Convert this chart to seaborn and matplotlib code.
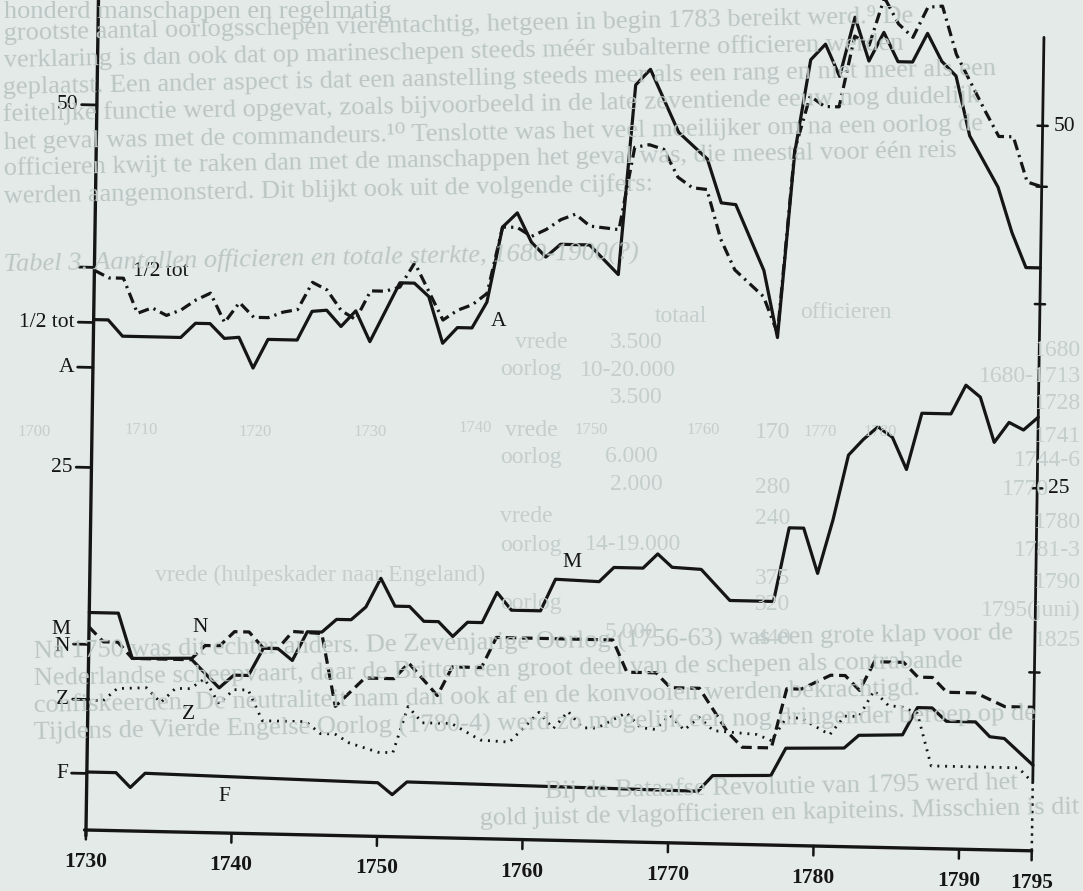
import numpy as np
import pandas as pd
import seaborn as sns
import matplotlib.pyplot as plt
from matplotlib import transforms as mtransforms

half_tot_years = [1730, 1731, 1732, 1733, 1734, 1735, 1736, 1737, 1738, 1739, 1740, 1741, 1742, 1743,
                  1744, 1745, 1746, 1747, 1748, 1749, 1750, 1751, 1752, 1754, 1755, 1756, 1757, 1758,
                  1759, 1760, 1761, 1762, 1763, 1764, 1766, 1767, 1768, 1769, 1770, 1771, 1772, 1773,
                  1774, 1776, 1777, 1778, 1779, 1780, 1781, 1782, 1783, 1784, 1785, 1786, 1787, 1788,
                  1789, 1790, 1791, 1792, 1793, 1794, 1795]
half_tot_vals = [38.6, 38.1, 38.1, 35.7, 36.1, 35.6, 36.0, 36.7, 37.2, 35.2, 36.6, 35.6, 35.6, 36.0,
                 36.2, 38.1, 37.6, 36.2, 35.6, 37.6, 37.6, 37.9, 39.6, 35.7, 36.4, 36.8, 37.6, 42.2,
                 42.2, 41.6, 42.1, 42.8, 43.2, 42.4, 42.2, 47.9, 48.1, 47.8, 45.9, 45.2, 45.1, 41.7,
                 39.6, 37.8, 35.3, 48.0, 51.7, 51.0, 51.0, 55.9, 55.3, 58.6, 56.8, 55.9, 58.0, 58.1,
                 54.8, 52.9, 51.0, 49.2, 49.2, 46.1, 45.8]

a_years = [1730, 1731, 1732, 1736, 1737, 1738, 1739, 1740, 1741, 1742, 1744, 1745, 1746, 1747, 1748,
           1749, 1751, 1752, 1753, 1754, 1755, 1756, 1757, 1758, 1759, 1760, 1761, 1762, 1764, 1766,
           1767, 1768, 1770, 1772, 1773, 1774, 1776, 1777, 1778, 1779, 1780, 1781, 1782, 1783, 1784,
           1785, 1786, 1787, 1788, 1789, 1790, 1792, 1793, 1794, 1795]
a_vals = [35.2, 35.2, 34.1, 34.1, 35.1, 35.1, 34.1, 34.2, 32.1, 34.1, 34.1, 36.1, 36.2, 35.1, 36.2,
          34.1, 38.2, 38.2, 37.3, 34.1, 35.2, 35.2, 37.0, 42.2, 43.2, 41.2, 40.2, 41.1, 41.1, 39.1,
          52.2, 53.3, 49.0, 47.2, 44.2, 44.1, 39.6, 35.0, 47.8, 54.2, 55.3, 53.1, 57.2, 54.2, 56.2,
          54.2, 54.2, 56.2, 54.3, 53.3, 49.2, 45.7, 42.6, 40.2, 40.2]

m_years = [1730, 1732, 1733, 1737, 1739, 1740, 1741, 1742, 1743, 1744, 1745, 1746, 1747, 1748, 1749,
           1750, 1751, 1752, 1753, 1754, 1755, 1756, 1757, 1758, 1759, 1761, 1762, 1765, 1766, 1768,
           1769, 1770, 1772, 1774, 1777, 1778, 1779, 1780, 1781, 1782, 1783, 1784, 1785, 1786, 1787,
           1789, 1790, 1791, 1792, 1793, 1794, 1795]
m_vals = [15.0, 15.0, 11.9, 12.0, 10.0, 10.9, 10.9, 12.8, 12.8, 12.0, 14.0, 14.0, 14.9, 14.9, 15.8,
          17.8, 15.9, 15.9, 14.9, 14.9, 13.9, 14.9, 14.9, 17.0, 15.8, 15.8, 18.0, 17.9, 18.9, 18.9,
          19.9, 19.0, 18.9, 16.8, 16.8, 21.9, 21.9, 18.8, 22.5, 27.0, 28.1, 29.0, 28.3, 26.1, 30.0,
          30.0, 32.0, 31.2, 28.1, 29.5, 29.0, 29.9]

n_years = [1730, 1731, 1732, 1733, 1737, 1738, 1739, 1740, 1741, 1742, 1743, 1744, 1746, 1747, 1749,
           1751, 1752, 1754, 1755, 1757, 1758, 1766, 1767, 1769, 1770, 1772, 1774, 1775, 1777, 1778,
           1779, 1780, 1781, 1782, 1783, 1784, 1786, 1787, 1788, 1789, 1791, 1793, 1795]
n_vals = [14.0, 13.0, 13.0, 11.9, 11.9, 12.9, 12.9, 13.9, 13.9, 12.8, 12.8, 14.0, 13.9, 8.9, 10.9,
          10.9, 12.0, 9.8, 11.8, 11.8, 13.9, 13.9, 11.7, 11.7, 10.7, 10.7, 7.7, 6.7, 6.7, 10.8,
          10.8, 11.3, 11.8, 11.8, 10.8, 12.8, 12.8, 11.8, 11.8, 10.8, 10.8, 9.9, 9.9]

z_years = [1730, 1731, 1732, 1734, 1735, 1736, 1737, 1738, 1739, 1740, 1741, 1742, 1745, 1746, 1747,
           1748, 1750, 1751, 1752, 1753, 1755, 1757, 1759, 1761, 1762, 1763, 1764, 1765, 1767, 1768,
           1769, 1770, 1771, 1772, 1773, 1776, 1777, 1778, 1779, 1781, 1782, 1783, 1784, 1785, 1786,
           1787, 1788, 1794, 1795]
z_vals = [9.0, 8.9, 9.8, 9.9, 8.9, 9.9, 9.9, 10.6, 8.9, 9.9, 9.9, 7.8, 7.8, 7.0, 7.0,
          6.4, 5.8, 5.8, 9.0, 7.9, 7.9, 6.8, 6.7, 8.8, 7.7, 8.9, 7.8, 7.8, 8.9, 7.9,
          7.8, 8.8, 7.8, 8.7, 7.8, 7.6, 7.2, 8.8, 8.8, 7.7, 9.0, 9.0, 10.8, 9.8, 9.7,
          9.3, 5.7, 5.7, 4.7]

f_years = [1730, 1732, 1733, 1734, 1750, 1751, 1752, 1772, 1773, 1777, 1778, 1782, 1783, 1786, 1787,
           1788, 1789, 1791, 1792, 1793, 1795]
f_vals = [4.0, 4.0, 3.0, 4.0, 3.7, 2.9, 3.8, 3.6, 4.7, 4.8, 6.7, 6.8, 7.7, 7.8, 9.7,
          9.7, 8.8, 8.8, 7.8, 7.7, 5.9]

series = {'1/2 tot': (half_tot_years, half_tot_vals), 'A': (a_years, a_vals),
          'M': (m_years, m_vals), 'N': (n_years, n_vals),
          'Z': (z_years, z_vals), 'F': (f_years, f_vals)}

# as-aanduidingen
year_ticks = [1730, 1740, 1750, 1760, 1770, 1780, 1790, 1795]
left_labels = ['50', '1/2 tot', 'A', '25', 'M', 'N', 'Z', 'F']
left_label_vals = [50, 35.0, 31.9, 25, 13.8, 12.6, 9.0, 3.9]
left_tick_vals = [50, 38.8, 35.0, 31.9, 25, 12.8, 9.0, 3.9]
right_labels = ['50', '25']
right_label_vals = [50, 25]
right_tick_vals = [50, 45.8, 37.7, 25, 12.3]

df = pd.concat([pd.DataFrame({'jaar': yrs, 'waarde': vals, 'reeks': name})
                for name, (yrs, vals) in series.items()], ignore_index=True)

sns.set_theme(style='white')
plt.rcParams['font.family'] = ['Liberation Serif', 'DejaVu Serif']

ink = '#151515'
paper = '#e3eae7'
ghost = '#bbc6c4'
ghost_light = '#c4cecc'

fig = plt.figure(figsize=(10.83, 8.91), dpi=100, facecolor=paper)
ax = fig.add_axes([0, 0, 1, 1])

# schaal van de scan: 14.55 px per jaar, 14.5 px per eenheid
px_year, px_unit = 14.55, 14.5
x_left = 1730 - 86 / px_year
y_bottom = -61 / px_unit
ax.set_xlim(x_left, x_left + 1083 / px_year)
ax.set_ylim(y_bottom, y_bottom + 891 / px_unit)
ax.axis('off')

# de scan is iets scheef: afschuiving in beeldpunten
k, s = 0.022, 0.015
skew = mtransforms.Affine2D(np.array([[1, s, -s * 61], [-k, 1, k * 86], [0, 0, 1]]))
tr = ax.transData + skew

# tekst van de andere bladzijde die door het papier schijnt
ghost_lines = [
    (4, 34, 'grootste aantal oorlogsschepen vierentachtig, hetgeen in begin 1783 bereikt werd.⁹ De'),
    (4, 61, 'verklaring is dan ook dat op marineschepen steeds méér subalterne officieren werden'),
    (3, 88, 'geplaatst. Een ander aspect is dat een aanstelling steeds meer als een rang en niet meer als een'),
    (3, 115, 'feitelijke functie werd opgevat, zoals bijvoorbeeld in de late zeventiende eeuw nog duidelijk'),
    (4, 142, 'het geval was met de commandeurs.¹⁰ Tenslotte was het veel moeilijker om na een oorlog de'),
    (4, 169, 'officieren kwijt te raken dan met de manschappen het geval was, die meestal voor één reis'),
    (4, 197, 'werden aangemonsterd. Dit blijkt ook uit de volgende cijfers:'),
    (34, 652, 'Na 1750 was dit echter anders. De Zevenjarige Oorlog (1756-63) was een grote klap voor de'),
    (34, 679, 'Nederlandse scheepvaart, daar de Britten een groot deel van de schepen als contrabande'),
    (34, 706, 'confiskeerden. De neutraliteit nam dan ook af en de konvooien werden bekrachtigd.'),
    (34, 733, 'Tijdens de Vierde Engelse Oorlog (1780-4) werd zo mogelijk een nog dringender beroep op de'),
    (545, 792, 'Bij de Bataafse Revolutie van 1795 werd het'),
    (480, 819, 'gold juist de vlagofficieren en kapiteins. Misschien is dit'),
]
fig.text(4 / 1083, 1 - 12 / 891, 'honderd manschappen en regelmatig', color=ghost, fontsize=19,
         ha='left', va='center', zorder=0)
for gx, gy, gtext in ghost_lines:
    fig.text(gx / 1083, 1 - gy / 891, gtext, color=ghost, fontsize=19, ha='left', va='center',
             rotation=1.1, rotation_mode='anchor', zorder=0)

fig.text(4 / 1083, 1 - 264 / 891, 'Tabel 3. Aantallen officieren en totale sterkte, 1680-1900(?)',
         color=ghost, fontsize=19, style='italic', ha='left', va='center', rotation=1.1,
         rotation_mode='anchor', zorder=0)

table_cells = [
    (800, 312, 'officieren'), (655, 316, 'totaal'),
    (515, 343, 'vrede'), (610, 343, '3.500'),
    (500, 370, 'oorlog'), (580, 370, '10-20.000'),
    (610, 397, '3.500'),
    (505, 430, 'vrede'), (755, 432, '170'),
    (500, 457, 'oorlog'), (605, 457, '6.000'),
    (610, 484, '2.000'), (755, 488, '280'),
    (500, 517, 'vrede'), (755, 519, '240'),
    (500, 545, 'oorlog'), (585, 545, '14-19.000'),
    (155, 575, 'vrede (hulpeskader naar Engeland)'), (755, 578, '375'),
    (500, 603, 'oorlog'), (755, 605, '320'),
    (605, 633, '5.000'), (755, 638, '440'),
]
for cx, cy, ctext in table_cells:
    fig.text(cx / 1083, 1 - cy / 891, ctext, color=ghost_light, fontsize=17, ha='left',
             va='center', zorder=0)

# jaarkolom van de tabel, rechts uitgelijnd
table_years = [(1081, 350, '1680'), (1081, 377, '1680-1713'), (1081, 404, '1728'),
               (1081, 436, '1741'), (1081, 461, '1744-6'), (1049, 489, '1770'),
               (1081, 522, '1780'), (1081, 551, '1781-3'), (1081, 582, '1790'),
               (1081, 610, '1795(juni)'), (1081, 640, '1825')]
for cx, cy, ctext in table_years:
    fig.text(cx / 1083, 1 - cy / 891, ctext, color=ghost_light, fontsize=17, ha='right',
             va='center', zorder=0)

# jaartallen van de grafiek op de andere kant van het blad
ghost_years = [(34, 432, '1700'), (141, 430, '1710'), (255, 432, '1720'), (370, 432, '1730'),
               (475, 428, '1740'), (591, 430, '1750'), (703, 430, '1760'), (820, 432, '1770'),
               (880, 432, '1780')]
for gx, gy, gtext in ghost_years:
    fig.text(gx / 1083, 1 - gy / 891, gtext, color=ghost_light, fontsize=12, ha='center',
             va='center', zorder=0)

# de reeksen
line_styles = {'1/2 tot': (3.4, 1.6, 0.7, 1.6), 'A': '', 'M': '', 'N': (3.3, 1.8),
               'Z': (0.7, 2.1), 'F': ''}
sns.lineplot(data=df, x='jaar', y='waarde', hue='reeks', style='reeks',
             palette={name: ink for name in series}, dashes=line_styles,
             linewidth=2.3, estimator=None, sort=True, legend=False, ax=ax)
for line, name in zip(ax.lines, series):
    line.set_transform(tr)
    line.set_zorder(3)
    if name == 'Z':
        line.set_linewidth(2.0)

# assen
first, last = year_ticks[0], year_ticks[-1]
ax.plot([first, first], [-0.4, 59], color=ink, lw=2.4, transform=tr, zorder=4)
ax.plot([first - 0.1, last], [0, 0], color=ink, lw=2.4, transform=tr, zorder=4)
ax.plot([last, last], [z_vals[-1], 56.1], color=ink, lw=2.0, transform=tr, zorder=4)
ax.plot([last, last], [0, z_vals[-1]], color=ink, lw=1.8, ls=(0, (1, 2)), transform=tr, zorder=4)

for yr in year_ticks:
    ax.plot([yr, yr], [0, -0.65], color=ink, lw=1.8, transform=tr, zorder=4)
    ax.text(yr, -2.2, str(yr), transform=tr, ha='center', va='center', fontsize=15.5,
            color=ink, fontweight='bold')

for v in left_tick_vals:
    ax.plot([first - 1.05, first], [v, v], color=ink, lw=2.0, transform=tr, zorder=4)
for lab, v in zip(left_labels, left_label_vals):
    ax.text(first - 1.3, v, lab, transform=tr, ha='right', va='center', fontsize=15.5, color=ink)

for v in right_tick_vals:
    ax.plot([last - 0.35, last + 0.35], [v, v], color=ink, lw=1.8, transform=tr, zorder=4)
for lab, v in zip(right_labels, right_label_vals):
    ax.text(last + 0.75, v, lab, transform=tr, ha='left', va='center', fontsize=15.5, color=ink)

# namen bij de lijnen
series_labels = [('1/2 tot', 1732.65, 38.6, 'left'), ('A', 1757.85, 35.7, 'center'),
                 ('M', 1763.1, 19.2, 'center'), ('N', 1737.6, 14.1, 'center'),
                 ('Z', 1736.95, 8.1, 'center'), ('F', 1739.5, 2.5, 'center')]
for lab, lx, ly, align in series_labels:
    ax.text(lx, ly, lab, transform=tr, ha=align, va='center', fontsize=15.5, color=ink, zorder=5)

fig.savefig('out.png', dpi=100, facecolor=paper)
